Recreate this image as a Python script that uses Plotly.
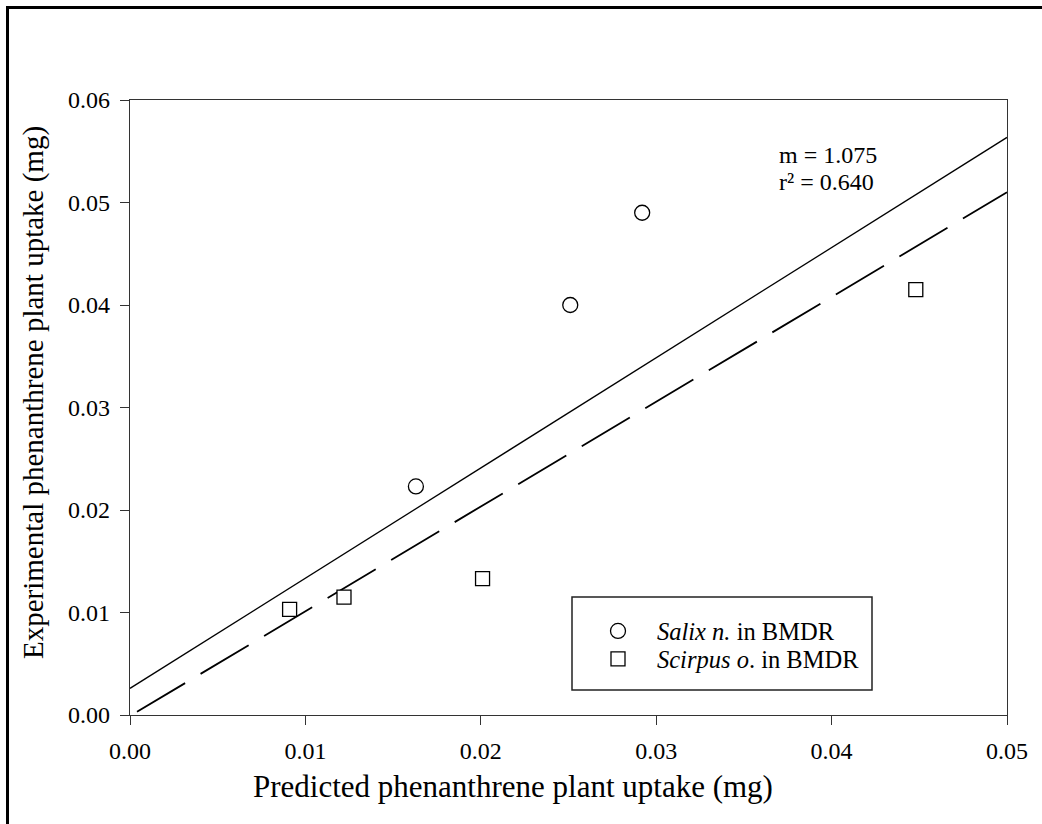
import numpy as np
import plotly.graph_objects as go

# ---------------- data ----------------
salix_x = [0.0163, 0.0251, 0.0292]
salix_y = [0.0223, 0.0400, 0.0490]

scirpus_x = [0.0091, 0.0122, 0.0201, 0.0448]
scirpus_y = [0.0103, 0.0115, 0.0133, 0.0415]

fit_slope = 1.075
fit_intercept = 0.0026
fit_x_range = [0.0, 0.05]

dash_slope = 1.022
dash_intercept = -0.0001
dash_x_range = [0.0004, 0.05]

x_ticks = [0.00, 0.01, 0.02, 0.03, 0.04, 0.05]
y_ticks = [0.00, 0.01, 0.02, 0.03, 0.04, 0.05, 0.06]

# ---------------- layout helpers ----------------
W, H = 1042, 824
ML, MR, MT, MB = 130, 35, 100, 109
PW, PH = W - ML - MR, H - MT - MB


def px(x):
    return (x - ML) / PW


def py(y):
    return (H - MB - y) / PH


FONT = "Liberation Serif, Times New Roman, serif"

fig = go.Figure()

fx = np.array(fit_x_range)
fig.add_trace(go.Scatter(x=fx, y=fit_slope * fx + fit_intercept, mode="lines",
                         line=dict(color="black", width=1.3), showlegend=False,
                         hoverinfo="skip"))
dx = np.array(dash_x_range)
fig.add_trace(go.Scatter(x=dx, y=dash_slope * dx + dash_intercept, mode="lines",
                         line=dict(color="black", width=1.8, dash="56px,18px"),
                         showlegend=False, hoverinfo="skip"))

fig.add_trace(go.Scatter(x=salix_x, y=salix_y, mode="markers",
                         name="<i>Salix n.</i> in BMDR",
                         marker=dict(symbol="circle", size=15, color="white",
                                     line=dict(color="black", width=1.3)),
                         legend="legend"))
fig.add_trace(go.Scatter(x=scirpus_x, y=scirpus_y, mode="markers",
                         name="<i>Scirpus o</i>. in BMDR",
                         marker=dict(symbol="square", size=14, color="white",
                                     line=dict(color="black", width=1.3)),
                         legend="legend2"))

axis_common = dict(showgrid=False, zeroline=False, showline=True, mirror=True,
                   linecolor="#333", linewidth=1.3, ticks="outside", ticklen=9,
                   tickwidth=1.3, tickcolor="#333",
                   tickfont=dict(family=FONT, size=24, color="black"),
                   tickformat=".2f")

fig.update_xaxes(range=[0, 0.05], tickvals=x_ticks, ticklabelstandoff=5, **axis_common)
fig.update_yaxes(range=[0, 0.06], tickvals=y_ticks, ticklabelstandoff=5, **axis_common)

legend_common = dict(font=dict(family=FONT, size=24.5, color="black"),
                     bgcolor="rgba(0,0,0,0)", borderwidth=0, itemwidth=68,
                     xanchor="left", yanchor="middle")

fig.update_layout(
    width=W, height=H,
    margin=dict(l=ML, r=MR, t=MT, b=MB),
    paper_bgcolor="white", plot_bgcolor="white",
    font=dict(family=FONT, color="black"),
    legend=dict(x=px(579), y=py(631), **legend_common),
    legend2=dict(x=px(579), y=py(659), **legend_common),
    shapes=[
        # legend box
        dict(type="rect", xref="paper", yref="paper",
             x0=px(572), x1=px(872), y0=py(690), y1=py(597),
             line=dict(color="#222", width=1.5), fillcolor="rgba(0,0,0,0)", layer="above"),
        # outer frame (top and left)
        dict(type="line", xref="paper", yref="paper",
             x0=px(7), x1=px(W + 5), y0=py(7.5), y1=py(7.5),
             line=dict(color="black", width=3)),
        dict(type="line", xref="paper", yref="paper",
             x0=px(7.5), x1=px(7.5), y0=py(6), y1=py(H + 5),
             line=dict(color="black", width=3)),
    ],
    annotations=[
        dict(text="m = 1.075", xref="paper", yref="paper", x=px(777), y=py(155),
             xanchor="left", yanchor="middle", showarrow=False,
             font=dict(family=FONT, size=24, color="black")),
        dict(text="r² = 0.640", xref="paper", yref="paper", x=px(777), y=py(182),
             xanchor="left", yanchor="middle", showarrow=False,
             font=dict(family=FONT, size=24, color="black")),
        dict(text="Predicted phenanthrene plant uptake (mg)", xref="paper", yref="paper",
             x=px(513), y=py(786), xanchor="center", yanchor="middle", showarrow=False,
             font=dict(family=FONT, size=31, color="black")),
        dict(text="Experimental phenanthrene plant uptake (mg)", xref="paper", yref="paper",
             x=px(33), y=py(393), xanchor="center", yanchor="middle", showarrow=False,
             textangle=-90, font=dict(family=FONT, size=29, color="black")),
    ],
)

fig.write_html("out.html")
